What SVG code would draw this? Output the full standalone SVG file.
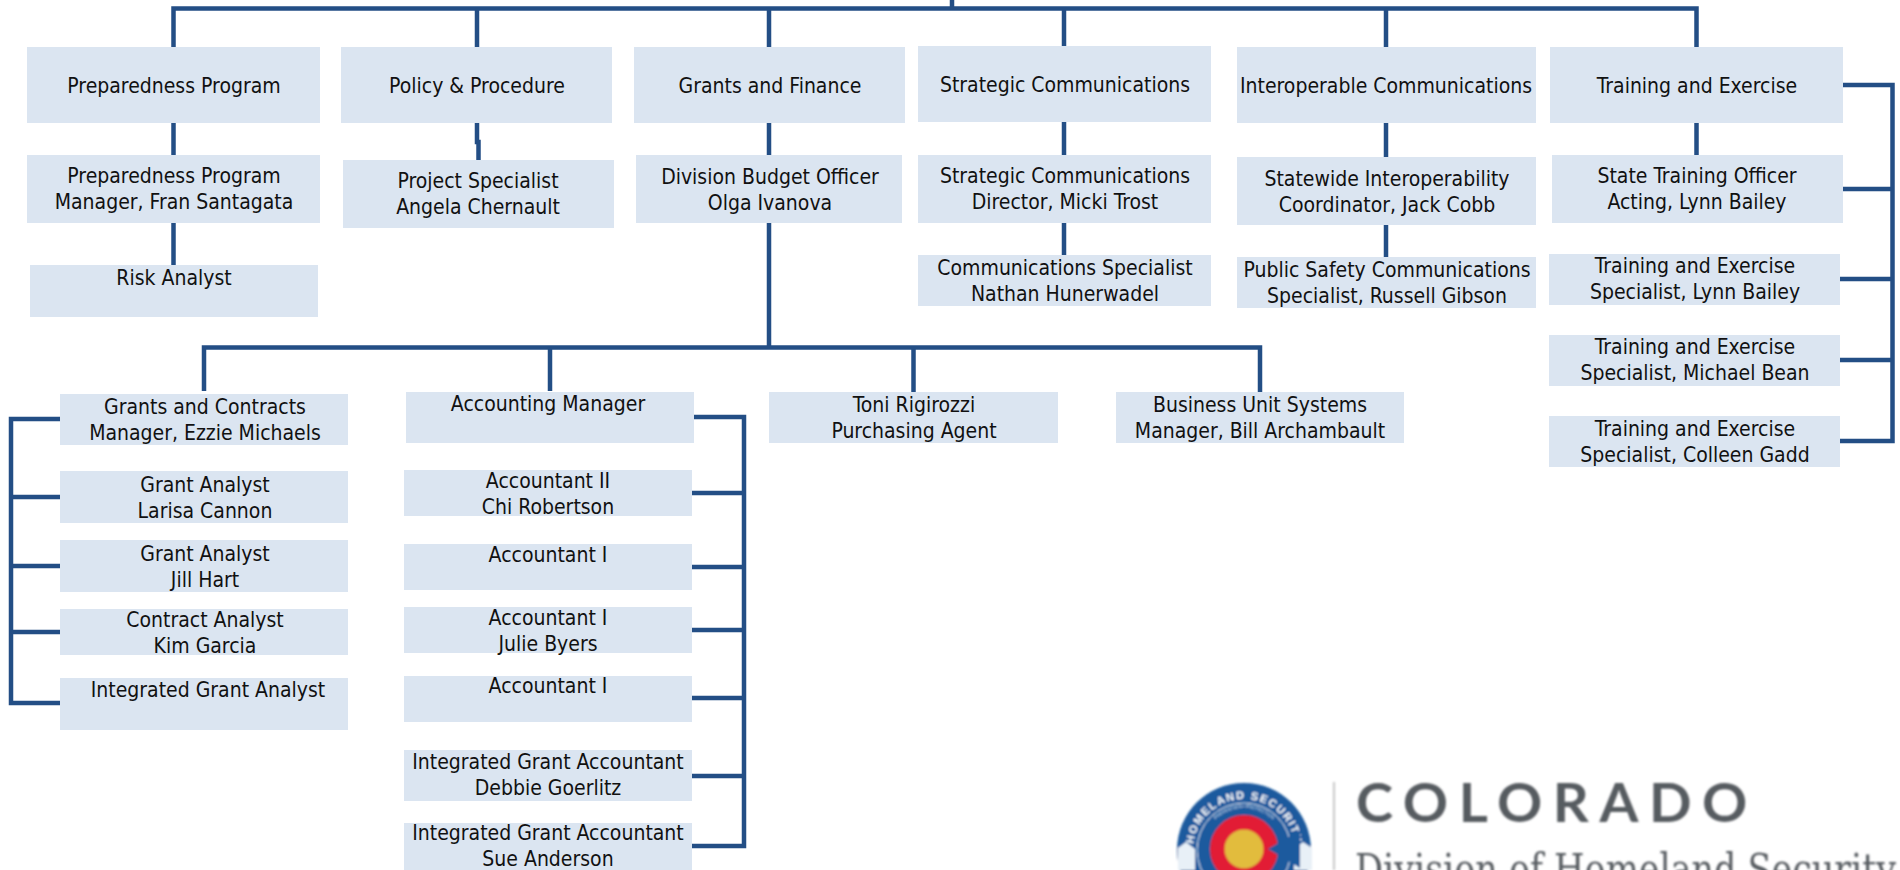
<svg xmlns="http://www.w3.org/2000/svg" width="1900" height="870" viewBox="0 0 1900 870">
<style>
.b{fill:#dbe5f1}
text.t{font-family:"DejaVu Sans Condensed","DejaVu Sans",sans-serif;font-stretch:condensed;font-size:21px;fill:#111;text-anchor:middle}
.c path{fill:none;stroke:#234e85;stroke-width:4.500;stroke-linejoin:miter}
</style>
<defs>
<filter id="soft" x="-5%" y="-5%" width="110%" height="110%"><feGaussianBlur stdDeviation="0.8"/></filter>
<path id="arc" d="M1244 901A51 51 0 1 1 1244 799A51 51 0 1 1 1244 901"/>
<path id="arc2" d="M1244 890A41 41 0 1 1 1244 808A41 41 0 1 1 1244 890"/>
</defs>
<rect width="1900" height="870" fill="#fff"/>
<g id="connectors" class="c">
<path d="M173.500 47V8.500H952V0M952 8.500H1696.500V47M477 8.500V47M769 8.500V47M1064 8.500V46M1386 8.500V47"/>
<path d="M173.500 123V155M173.500 223V265M477 123V142H478.500V160M769 123V155M769 223V347.500M1064 122V155M1064 223V255M1386 123V157M1386 225V257M1696.500 123V155"/>
<path d="M204 391V347.500H1260V392M550 347.500V391M913.500 347.500V392"/>
<path d="M60 419H11V703H60M11 497H60M11 566H60M11 632H60" />
<path d="M694 417H744V846H692M692 493H744M692 567H744M692 630H744M692 698H744M692 776H744"/>
<path d="M1843 85H1892.500V441H1840M1843 189H1892.500M1840 279H1892.500M1840 360H1892.500"/>
</g>
<g id="n1"><rect class="b" x="27" y="47" width="293" height="76"/><text class="t" x="174" y="93">Preparedness Program</text></g>
<g id="n2"><rect class="b" x="341" y="47" width="271" height="76"/><text class="t" x="477" y="93">Policy &amp; Procedure</text></g>
<g id="n3"><rect class="b" x="634" y="47" width="271" height="76"/><text class="t" x="770" y="93">Grants and Finance</text></g>
<g id="n4"><rect class="b" x="918" y="46" width="293" height="76"/><text class="t" x="1065" y="92">Strategic Communications</text></g>
<g id="n5"><rect class="b" x="1237" y="47" width="299" height="76"/><text class="t" x="1386" y="93">Interoperable Communications</text></g>
<g id="n6"><rect class="b" x="1550" y="47" width="293" height="76"/><text class="t" x="1697" y="93">Training and Exercise</text></g>
<g id="n7"><rect class="b" x="27" y="155" width="293" height="68"/><text class="t" x="174" y="183">Preparedness Program</text><text class="t" x="174" y="209">Manager, Fran Santagata</text></g>
<g id="n8"><rect class="b" x="343" y="160" width="271" height="68"/><text class="t" x="478" y="188">Project Specialist</text><text class="t" x="478" y="214">Angela Chernault</text></g>
<g id="n9"><rect class="b" x="636" y="155" width="266" height="68"/><text class="t" x="770" y="184">Division Budget Officer</text><text class="t" x="770" y="210">Olga Ivanova</text></g>
<g id="n10"><rect class="b" x="918" y="155" width="293" height="68"/><text class="t" x="1065" y="183">Strategic Communications</text><text class="t" x="1065" y="209">Director, Micki Trost</text></g>
<g id="n11"><rect class="b" x="1237" y="157" width="299" height="68"/><text class="t" x="1387" y="186">Statewide Interoperability</text><text class="t" x="1387" y="212">Coordinator, Jack Cobb</text></g>
<g id="n12"><rect class="b" x="1552" y="155" width="291" height="68"/><text class="t" x="1697" y="183">State Training Officer</text><text class="t" x="1697" y="209">Acting, Lynn Bailey</text></g>
<g id="n13"><rect class="b" x="30" y="265" width="288" height="52"/><text class="t" x="174" y="285">Risk Analyst</text></g>
<g id="n14"><rect class="b" x="918" y="255" width="293" height="51"/><text class="t" x="1065" y="275">Communications Specialist</text><text class="t" x="1065" y="301">Nathan Hunerwadel</text></g>
<g id="n15"><rect class="b" x="1237" y="257" width="299" height="51"/><text class="t" x="1387" y="277">Public Safety Communications</text><text class="t" x="1387" y="303">Specialist, Russell Gibson</text></g>
<g id="n16"><rect class="b" x="1549" y="254" width="291" height="51"/><text class="t" x="1695" y="273">Training and Exercise</text><text class="t" x="1695" y="299">Specialist, Lynn Bailey</text></g>
<g id="n17"><rect class="b" x="1549" y="335" width="291" height="51"/><text class="t" x="1695" y="354">Training and Exercise</text><text class="t" x="1695" y="380">Specialist, Michael Bean</text></g>
<g id="n18"><rect class="b" x="1549" y="416" width="291" height="51"/><text class="t" x="1695" y="436">Training and Exercise</text><text class="t" x="1695" y="462">Specialist, Colleen Gadd</text></g>
<g id="n19"><rect class="b" x="60" y="394" width="288" height="51"/><text class="t" x="205" y="414">Grants and Contracts</text><text class="t" x="205" y="440">Manager, Ezzie Michaels</text></g>
<g id="n20"><rect class="b" x="60" y="471" width="288" height="52"/><text class="t" x="205" y="492">Grant Analyst</text><text class="t" x="205" y="518">Larisa Cannon</text></g>
<g id="n21"><rect class="b" x="60" y="540" width="288" height="52"/><text class="t" x="205" y="561">Grant Analyst</text><text class="t" x="205" y="587">Jill Hart</text></g>
<g id="n22"><rect class="b" x="60" y="609" width="288" height="46"/><text class="t" x="205" y="627">Contract Analyst</text><text class="t" x="205" y="653">Kim Garcia</text></g>
<g id="n23"><rect class="b" x="60" y="678" width="288" height="52"/><text class="t" x="208" y="697">Integrated Grant Analyst</text></g>
<g id="n24"><rect class="b" x="406" y="392" width="288" height="51"/><text class="t" x="548" y="411">Accounting Manager</text></g>
<g id="n25"><rect class="b" x="404" y="470" width="288" height="46"/><text class="t" x="548" y="488">Accountant II</text><text class="t" x="548" y="514">Chi Robertson</text></g>
<g id="n26"><rect class="b" x="404" y="544" width="288" height="46"/><text class="t" x="548" y="562">Accountant I</text></g>
<g id="n27"><rect class="b" x="404" y="607" width="288" height="46"/><text class="t" x="548" y="625">Accountant I</text><text class="t" x="548" y="651">Julie Byers</text></g>
<g id="n28"><rect class="b" x="404" y="676" width="288" height="46"/><text class="t" x="548" y="693">Accountant I</text></g>
<g id="n29"><rect class="b" x="404" y="750" width="288" height="51"/><text class="t" x="548" y="769">Integrated Grant Accountant</text><text class="t" x="548" y="795">Debbie Goerlitz</text></g>
<g id="n30"><rect class="b" x="404" y="823" width="288" height="47"/><text class="t" x="548" y="840">Integrated Grant Accountant</text><text class="t" x="548" y="866">Sue Anderson</text></g>
<g id="n31"><rect class="b" x="769" y="392" width="289" height="51"/><text class="t" x="914" y="412">Toni Rigirozzi</text><text class="t" x="914" y="438">Purchasing Agent</text></g>
<g id="n32"><rect class="b" x="1116" y="392" width="288" height="51"/><text class="t" x="1260" y="412">Business Unit Systems</text><text class="t" x="1260" y="438">Manager, Bill Archambault</text></g>
<g id="logo" filter="url(#soft)">
<circle cx="1244" cy="850" r="67" fill="#1c5a9e"/>
<circle cx="1244" cy="850" r="47" fill="none" stroke="#d5e3f0" stroke-width="1"/>
<text font-family="'Liberation Sans',sans-serif" font-weight="700" font-size="11" letter-spacing="1.500" fill="#fff" text-anchor="middle"><textPath href="#arc" startOffset="50%">HOMELAND SECURITY</textPath></text>
<text font-family="'Liberation Sans',sans-serif" font-size="4.500" fill="#dbe7f3" text-anchor="middle"><textPath href="#arc2" startOffset="50%">PREVENTION • PROTECTION</textPath></text>
<path d="M1178 848L1186 842 1195 849V870H1178Z M1312 848L1303 842 1294 849V870H1312Z" fill="#e8f0f7"/>
<circle cx="1244" cy="849" r="26.500" fill="none" stroke="#e21f35" stroke-width="15"/>
<path d="M1268 849L1300 830V868Z" fill="#1c5a9e"/>
<circle cx="1244" cy="849" r="19.500" fill="#e2bc3d"/>
<path d="M1334 782V870" stroke="#b5b5b5" stroke-width="1.500"/>
<text x="1356" y="822" font-family="Lato,'Open Sans',sans-serif" font-weight="700" font-size="53" letter-spacing="10" fill="#575b60" textLength="402" lengthAdjust="spacingAndGlyphs">COLORADO</text>
<text x="1355" y="884" font-family="'DejaVu Serif',serif" font-size="42" fill="#575b60" textLength="541" lengthAdjust="spacingAndGlyphs">Division of Homeland Security</text>
</g>
</svg>
